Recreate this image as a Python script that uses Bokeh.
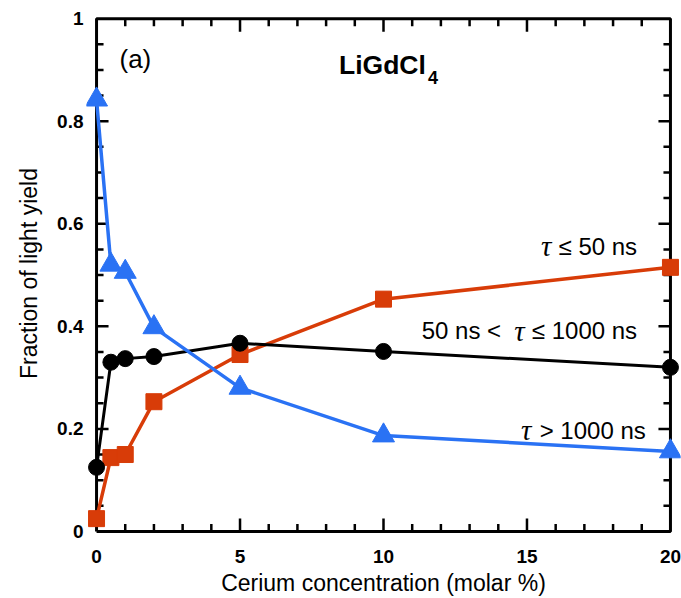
from bokeh.plotting import figure
from bokeh.models import Range1d, FixedTicker
from bokeh.core.properties import value
from bokeh.embed import file_html
from bokeh.resources import INLINE

# ---------------- data ----------------
cerium = [0, 0.5, 1, 2, 5, 10, 20]
fast = [0.025, 0.144, 0.150, 0.253, 0.345, 0.453, 0.515]      # tau <= 50 ns
mid = [0.125, 0.330, 0.337, 0.341, 0.367, 0.351, 0.320]       # 50 ns < tau <= 1000 ns
slow = [0.842, 0.520, 0.506, 0.398, 0.280, 0.187, 0.156]      # tau > 1000 ns

x_tick_values = [0, 5, 10, 15, 20]
x_tick_labels = ["0", "5", "10", "15", "20"]
y_tick_values = [0, 0.2, 0.4, 0.6, 0.8, 1]
y_tick_labels = ["0", "0.2", "0.4", "0.6", "0.8", "1"]
x_minor_values = list(range(0, 21))
y_minor_values = [0, 0.05, 0.1, 0.15, 0.2, 0.25, 0.3, 0.35, 0.4, 0.45, 0.5,
                  0.55, 0.6, 0.65, 0.7, 0.75, 0.8, 0.85, 0.9, 0.95, 1.0]
x_title = "Cerium concentration (molar %)"
y_title = "Fraction of light yield"

# ---------------- layout ----------------
W, H = 681, 598
X_MIN, X_MAX = 0, 20
Y_MIN, Y_MAX = 0, 1
X_LO, X_HI = -0.35, 20.35
Y_LO, Y_HI = -0.004, 1.01
BL, BR, BT, BB = 86, 1, 13, 65
FW = W - BL - BR
FH = H - BT - BB
px_x = (X_HI - X_LO) / FW
px_y = (Y_HI - Y_LO) / FH

BLUE = "#2a72f4"
RED = "#d83c08"
BLACK = "#000000"
FONT = "Liberation Sans"

p = figure(width=W, height=H, output_backend="svg", toolbar_location=None,
           x_range=Range1d(X_LO, X_HI), y_range=Range1d(Y_LO, Y_HI),
           min_border_left=BL, min_border_right=BR, min_border_top=BT, min_border_bottom=BB)
p.outline_line_color = None
p.grid.visible = False
p.background_fill_color = "white"
p.border_fill_color = "white"

for ax in (p.xaxis[0], p.yaxis[0]):
    ax.axis_line_color = None
    ax.major_tick_line_color = None
    ax.minor_tick_line_color = None
    ax.major_tick_out = 0
    ax.major_tick_in = 0
    ax.major_label_text_font = FONT
    ax.major_label_text_font_style = "bold"
    ax.major_label_text_font_size = "19px"
    ax.major_label_text_color = "black"
    ax.axis_label_text_font = FONT
    ax.axis_label_text_font_style = "normal"
    ax.axis_label_text_font_size = "23px"
    ax.axis_label_text_color = "black"

p.xaxis.ticker = FixedTicker(ticks=x_tick_values)
p.xaxis.major_label_overrides = dict(zip(x_tick_values, x_tick_labels))
p.yaxis.ticker = FixedTicker(ticks=y_tick_values)
p.yaxis.major_label_overrides = dict(zip(y_tick_values, y_tick_labels))
p.xaxis.major_label_standoff = 16
p.xaxis.axis_label_standoff = 4
p.yaxis.major_label_standoff = 3
p.yaxis.axis_label_standoff = 12
p.xaxis.axis_label = x_title
p.yaxis.axis_label = y_title

# ---------------- frame box and inward ticks ----------------
p.line(x=[X_MIN, X_MAX, X_MAX, X_MIN, X_MIN], y=[Y_MIN, Y_MIN, Y_MAX, Y_MAX, Y_MIN],
       line_color="black", line_width=3)

def xlen(v):
    return (13 if v in x_tick_values else 7.5) * px_y

def ylen(v):
    return (12 if any(abs(v - t) < 1e-9 for t in y_tick_values) else 7) * px_x

xs = [v for v in x_minor_values if v not in (X_MIN, X_MAX)]
ys = [v for v in y_minor_values if v not in (Y_MIN, Y_MAX)]
# bottom and top
p.segment(x0=xs, y0=[Y_MIN] * len(xs), x1=xs, y1=[Y_MIN + xlen(v) for v in xs],
          line_color="black", line_width=2.5)
p.segment(x0=xs, y0=[Y_MAX] * len(xs), x1=xs, y1=[Y_MAX - xlen(v) for v in xs],
          line_color="black", line_width=2.5)
# left and right
p.segment(x0=[X_MIN] * len(ys), y0=ys, x1=[X_MIN + ylen(v) for v in ys], y1=ys,
          line_color="black", line_width=2.5)
p.segment(x0=[X_MAX] * len(ys), y0=ys, x1=[X_MAX - ylen(v) for v in ys], y1=ys,
          line_color="black", line_width=2.5)

# ---------------- series ----------------
p.line(cerium, fast, line_color=RED, line_width=3.5)
p.scatter(cerium, fast, marker="square", size=16, fill_color=RED, line_color=RED)
p.line(cerium, mid, line_color=BLACK, line_width=3)
p.scatter(cerium, mid, marker="circle", size=16, fill_color=BLACK, line_color=BLACK)
p.line(cerium, slow, line_color=BLUE, line_width=3.5)
p.scatter(cerium, slow, marker="triangle", size=22, fill_color=BLUE, line_color=BLUE)

# ---------------- annotations ----------------
def txt(x, y, s, size, align="right", font=FONT, style="normal"):
    p.text(x=[x], y=[y], text=[s], text_font=value(font), text_font_size=size,
           text_font_style=style, text_align=align, text_baseline="middle",
           text_color="black")

SER = "24px"
TAU = "29px"
TAU_FONT = "Liberation Serif"
# tau <= 50 ns
txt(19.07, 0.556, "\u2264  50 ns", SER)
txt(15.85, 0.556, "\u03c4", TAU, font=TAU_FONT, style="italic")
# 50 ns < tau <= 1000 ns
txt(19.07, 0.391, "\u2264  1000 ns", SER)
txt(14.92, 0.391, "\u03c4", TAU, font=TAU_FONT, style="italic")
txt(14.33, 0.391, "50 ns  <", SER)
# tau > 1000 ns
txt(19.14, 0.197, "> 1000 ns", SER)
txt(15.15, 0.197, "\u03c4", TAU, font=TAU_FONT, style="italic")

# panel label and compound
txt(0.80, 0.922, "(a)", "26px", align="left")
txt(8.45, 0.909, "LiGdCl", "26.5px", align="left", style="bold")
txt(11.55, 0.885, "4", "18px", align="left", style="bold")

open("out.html", "w").write(file_html(p, INLINE))
